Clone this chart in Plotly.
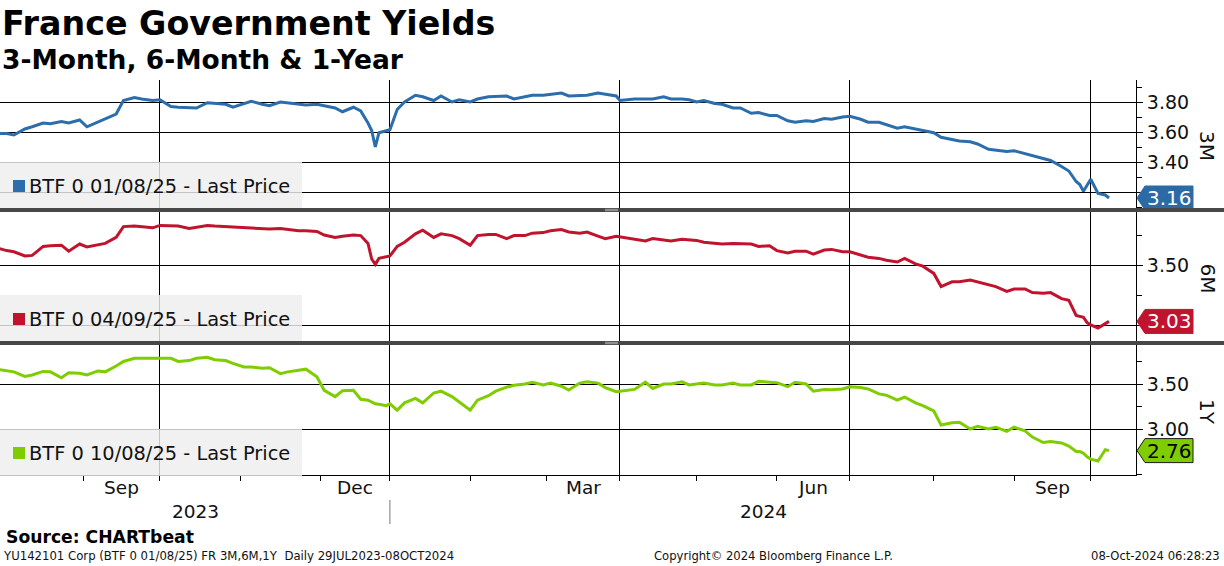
import pandas as pd
import plotly.graph_objects as go

# ---------------- data ----------------
DATES = [
    "2023-07-31", "2023-08-03", "2023-08-07", "2023-08-10", "2023-08-14", "2023-08-17",
    "2023-08-21", "2023-08-24", "2023-08-28", "2023-08-31", "2023-09-04", "2023-09-07",
    "2023-09-11", "2023-09-14", "2023-09-18", "2023-09-21", "2023-09-25", "2023-09-28",
    "2023-10-02", "2023-10-05", "2023-10-09", "2023-10-12", "2023-10-16", "2023-10-19",
    "2023-10-23", "2023-10-26", "2023-10-30", "2023-11-02", "2023-11-06", "2023-11-09",
    "2023-11-13", "2023-11-16", "2023-11-20", "2023-11-23", "2023-11-27", "2023-11-30",
    "2023-12-04", "2023-12-07", "2023-12-11", "2023-12-14", "2023-12-18", "2023-12-20",
    "2023-12-21", "2023-12-22", "2023-12-27", "2023-12-29", "2024-01-02", "2024-01-04",
    "2024-01-08", "2024-01-11", "2024-01-15", "2024-01-18", "2024-01-22", "2024-01-25",
    "2024-01-29", "2024-02-01", "2024-02-05", "2024-02-08", "2024-02-12", "2024-02-15",
    "2024-02-19", "2024-02-22", "2024-02-26", "2024-02-29", "2024-03-04", "2024-03-07",
    "2024-03-11", "2024-03-14", "2024-03-18", "2024-03-21", "2024-03-25", "2024-03-28",
    "2024-04-02", "2024-04-05", "2024-04-08", "2024-04-11", "2024-04-15", "2024-04-18",
    "2024-04-22", "2024-04-25", "2024-04-29", "2024-05-02", "2024-05-06", "2024-05-09",
    "2024-05-13", "2024-05-16", "2024-05-20", "2024-05-23", "2024-05-27", "2024-05-30",
    "2024-06-03", "2024-06-06", "2024-06-10", "2024-06-13", "2024-06-17", "2024-06-20",
    "2024-06-24", "2024-06-27", "2024-07-01", "2024-07-04", "2024-07-08", "2024-07-11",
    "2024-07-15", "2024-07-18", "2024-07-22", "2024-07-25", "2024-07-29", "2024-08-01",
    "2024-08-05", "2024-08-08", "2024-08-12", "2024-08-15", "2024-08-19", "2024-08-22",
    "2024-08-26", "2024-08-29", "2024-09-02", "2024-09-05", "2024-09-09", "2024-09-12",
    "2024-09-16", "2024-09-19", "2024-09-23", "2024-09-25", "2024-09-26", "2024-09-27",
    "2024-09-30", "2024-10-01", "2024-10-03", "2024-10-07", "2024-10-08",
]

Y_3M = [
    3.59, 3.59, 3.58, 3.62, 3.635, 3.66, 3.655, 3.67, 3.66, 3.68, 3.635, 3.665,
    3.685, 3.72, 3.81, 3.83, 3.82, 3.81, 3.815, 3.77, 3.765, 3.76, 3.76, 3.795,
    3.79, 3.785, 3.765, 3.79, 3.805, 3.785, 3.775, 3.80, 3.795, 3.79, 3.78, 3.785,
    3.775, 3.76, 3.735, 3.765, 3.74, 3.66, 3.61, 3.50, 3.595, 3.605, 3.615, 3.75,
    3.80, 3.845, 3.835, 3.81, 3.84, 3.80, 3.815, 3.80, 3.82, 3.835, 3.835, 3.84,
    3.82, 3.835, 3.845, 3.845, 3.85, 3.86, 3.84, 3.845, 3.845, 3.86, 3.85, 3.84,
    3.81, 3.82, 3.82, 3.82, 3.82, 3.835, 3.82, 3.82, 3.815, 3.80, 3.81, 3.79,
    3.785, 3.76, 3.76, 3.725, 3.73, 3.71, 3.71, 3.675, 3.665, 3.675, 3.67, 3.69,
    3.685, 3.70, 3.705, 3.685, 3.665, 3.665, 3.65, 3.625, 3.635, 3.62, 3.605, 3.595,
    3.565, 3.55, 3.54, 3.535, 3.52, 3.485, 3.48, 3.47, 3.475, 3.455, 3.445, 3.425,
    3.41, 3.37, 3.34, 3.27, 3.25, 3.205, 3.25, 3.285, 3.19, 3.18, 3.16,
]

Y_6M = [
    3.645, 3.62, 3.61, 3.575, 3.58, 3.655, 3.66, 3.665, 3.615, 3.675, 3.65, 3.67,
    3.68, 3.73, 3.82, 3.825, 3.82, 3.81, 3.83, 3.83, 3.825, 3.805, 3.815, 3.83,
    3.825, 3.82, 3.815, 3.81, 3.81, 3.805, 3.80, 3.805, 3.795, 3.785, 3.785, 3.78,
    3.75, 3.73, 3.74, 3.75, 3.745, 3.68, 3.55, 3.505, 3.555, 3.565, 3.575, 3.655,
    3.69, 3.76, 3.79, 3.73, 3.76, 3.745, 3.72, 3.665, 3.745, 3.755, 3.755, 3.72,
    3.745, 3.745, 3.765, 3.77, 3.785, 3.795, 3.775, 3.765, 3.775, 3.74, 3.72, 3.74,
    3.735, 3.72, 3.72, 3.70, 3.72, 3.705, 3.70, 3.715, 3.71, 3.705, 3.69, 3.68,
    3.675, 3.68, 3.68, 3.675, 3.655, 3.66, 3.62, 3.60, 3.615, 3.615, 3.59, 3.625,
    3.63, 3.61, 3.61, 3.585, 3.565, 3.555, 3.54, 3.525, 3.555, 3.51, 3.49, 3.43,
    3.32, 3.36, 3.36, 3.375, 3.36, 3.34, 3.32, 3.28, 3.30, 3.30, 3.27, 3.265,
    3.27, 3.22, 3.205, 3.08, 3.075, 3.065, 3.02, 3.00, 2.975, 3.01, 3.03,
]

Y_1Y = [
    3.665, 3.65, 3.635, 3.585, 3.60, 3.64, 3.635, 3.57, 3.625, 3.62, 3.60, 3.645,
    3.635, 3.70, 3.75, 3.786, 3.786, 3.79, 3.786, 3.785, 3.75, 3.76, 3.785, 3.797,
    3.77, 3.76, 3.73, 3.69, 3.69, 3.675, 3.68, 3.615, 3.635, 3.655, 3.665, 3.58,
    3.43, 3.36, 3.425, 3.43, 3.33, 3.32, 3.30, 3.28, 3.275, 3.26, 3.28, 3.21,
    3.29, 3.34, 3.29, 3.40, 3.42, 3.36, 3.30, 3.21, 3.32, 3.37, 3.42, 3.465,
    3.485, 3.50, 3.52, 3.49, 3.51, 3.475, 3.433, 3.51, 3.525, 3.51, 3.46, 3.415,
    3.42, 3.43, 3.44, 3.52, 3.45, 3.50, 3.50, 3.525, 3.49, 3.50, 3.51, 3.49,
    3.49, 3.51, 3.49, 3.49, 3.53, 3.52, 3.515, 3.47, 3.52, 3.50, 3.42, 3.44,
    3.435, 3.445, 3.47, 3.46, 3.445, 3.39, 3.375, 3.32, 3.355, 3.29, 3.26, 3.20,
    3.045, 3.07, 3.074, 3.00, 3.03, 3.00, 3.02, 2.975, 3.02, 2.98, 2.91, 2.85,
    2.86, 2.845, 2.81, 2.75, 2.75, 2.73, 2.69, 2.665, 2.645, 2.77, 2.76,
]

NAMES = ["BTF 0 01/08/25 - Last Price", "BTF 0 04/09/25 - Last Price", "BTF 0 10/08/25 - Last Price"]
PANEL_LABELS = ["3M", "6M", "1Y"]
MAJOR_Y = [[3.2, 3.4, 3.6, 3.8], [3.0, 3.5], [3.0, 3.5]]
# tick labels hidden behind the last-price tags in the reference
HIDDEN_LABELS = [[3.2], [3.0], []]
MINOR_Y = [[3.1, 3.3, 3.5, 3.7, 3.9], [3.25, 3.75], [2.5, 2.75, 3.25, 3.75]]
Y_RANGES = [[3.0933, 3.9467], [2.8667, 3.9417], [2.4889, 3.9333]]
HOLIDAYS = ["2023-12-25", "2023-12-26", "2024-01-01", "2024-03-29", "2024-04-01", "2024-05-01"]
LABEL_MONTHS = ["2023-09", "2023-12", "2024-03", "2024-06", "2024-09"]
YEARS = ["2023", "2024"]
X_RANGE = ["2023-08-01 04:20", "2024-10-17 09:36"]

TITLE = "France Government Yields"
SUBTITLE = "3-Month, 6-Month & 1-Year"
SOURCE = "Source: CHARTbeat"
FOOT_LEFT = "YU142101 Corp (BTF 0 01/08/25) FR 3M,6M,1Y  Daily 29JUL2023-08OCT2024"
FOOT_MID = "Copyright\u00a9 2024 Bloomberg Finance L.P."
FOOT_RIGHT = "08-Oct-2024 06:28:23"

# ---------------- styling ----------------
W, H = 1224, 566
COLORS = ["#2c6dab", "#c0142e", "#7fcd00"]
TAG_FILL = ["#2c6aa6", "#c0142e", "#7fcd00"]
TAG_TEXT = ["white", "white", "black"]
TAG_LINE = ["#2c6aa6", "#c0142e", "#1a1a1a"]
FONT = "DejaVu Sans"
PLOT_RIGHT = 1136
PANELS_PX = [(80, 208), (212, 341), (345, 475)]


def py(p):
    return 1 - p / H


def pxx(p):
    return p / W


XDOM = [0, pxx(PLOT_RIGHT)]

# trading-day calendar for ticks and label positions
td = pd.bdate_range("2023-07-31", "2024-11-29")
td = td[~td.isin(pd.to_datetime(HOLIDAYS))]
tds = pd.Series(td)
month_first = tds.groupby(tds.dt.to_period("M")).min()
month_starts = [d for d in month_first if pd.Timestamp("2023-08-01") <= d <= pd.Timestamp("2024-10-31")]
quarter_starts = [d for d in month_starts if d.month in (1, 4, 7, 10)]

fig = go.Figure()
series = [Y_3M, Y_6M, Y_1Y]
rb = [dict(bounds=["sat", "mon"]), dict(values=HOLIDAYS)]

for i in range(3):
    sfx = "" if i == 0 else str(i + 1)
    fig.add_trace(go.Scatter(
        x=DATES, y=series[i], mode="lines",
        line=dict(color=COLORS[i], width=3),
        xaxis="x" + sfx, yaxis="y" + sfx,
        showlegend=False, hoverinfo="skip"))

    top, bot = PANELS_PX[i]
    bottom_axis = (i == 2)
    xa = dict(
        domain=XDOM, anchor="y" + sfx, type="date", range=X_RANGE, rangebreaks=rb,
        tickmode="array", tickvals=quarter_starts, ticktext=[""] * len(quarter_starts),
        showgrid=True, gridcolor="black", gridwidth=1, zeroline=False,
        showticklabels=False, fixedrange=True,
    )
    if bottom_axis:
        xa.update(showline=True, linecolor="black", linewidth=1,
                  ticks="outside", ticklen=7, tickcolor="black", tickwidth=1,
                  minor=dict(tickmode="array", tickvals=month_starts, ticks="outside",
                             ticklen=5, tickcolor="black", tickwidth=1, showgrid=False))
    else:
        xa.update(showline=False, ticks="")
    if i > 0:
        xa["matches"] = "x"
    fig.layout["xaxis" + sfx] = xa

    fig.layout["yaxis" + sfx] = dict(
        domain=[py(bot), py(top)], anchor="x" + sfx, side="right",
        range=Y_RANGES[i], tickmode="array", tickvals=MAJOR_Y[i],
        ticktext=["" if v in HIDDEN_LABELS[i] else f"{v:.2f}" for v in MAJOR_Y[i]],
        showgrid=True, gridcolor="black", gridwidth=1, zeroline=False,
        showline=True, linecolor="black", linewidth=1,
        ticks="outside", ticklen=6, tickcolor="black",
        minor=dict(tickmode="array", tickvals=MINOR_Y[i], ticks="outside", ticklen=5,
                   tickcolor="black", showgrid=False),
        tickfont=dict(family=FONT, size=19, color="#111111"), fixedrange=True,
    )

shapes = []
annots = []

# value tags at the last price
for i in range(3):
    sfx = "" if i == 0 else str(i + 1)
    last = series[i][-1]
    shapes.append(dict(type="path", xref="paper", yref="y" + sfx,
                       xsizemode="pixel", ysizemode="pixel",
                       xanchor=XDOM[1], yanchor=last,
                       path="M 1,0 L 9,12 L 57,12 L 57,-12 L 9,-12 Z",
                       fillcolor=TAG_FILL[i], line=dict(color=TAG_LINE[i], width=1),
                       layer="above"))
    annots.append(dict(xref="paper", yref="y" + sfx, x=pxx(PLOT_RIGHT + 33), y=last,
                       text=f"{last:.2f}", showarrow=False, xanchor="center", yanchor="middle",
                       font=dict(family=FONT, size=20, color=TAG_TEXT[i])))
    top, bot = PANELS_PX[i]
    annots.append(dict(xref="paper", yref="paper", x=pxx(1207), y=py((top + bot) / 2 + 2),
                       text=PANEL_LABELS[i], showarrow=False, textangle=90,
                       xanchor="center", yanchor="middle",
                       font=dict(family=FONT, size=20, color="#111111")))
    # legend box
    shapes.append(dict(type="rect", xref="paper", yref="paper",
                       x0=0, x1=pxx(302), y0=py(bot + 1), y1=py(bot - 46),
                       fillcolor="rgba(238,238,238,0.82)", line=dict(width=0), layer="above"))
    cy = bot - 22
    shapes.append(dict(type="rect", xref="paper", yref="paper",
                       x0=pxx(13), x1=pxx(25), y0=py(cy + 6), y1=py(cy - 6),
                       fillcolor=COLORS[i], line=dict(width=0), layer="above"))
    annots.append(dict(xref="paper", yref="paper", x=pxx(27), y=py(cy),
                       text=NAMES[i], showarrow=False, xanchor="left", yanchor="middle",
                       font=dict(family=FONT, size=19.4, color="#111111")))

# panel separators (drawn after tags so they clip them)
for yb in (208, 341):
    shapes.append(dict(type="rect", xref="paper", yref="paper", x0=0, x1=1,
                       y0=py(yb + 4), y1=py(yb), fillcolor="#474747",
                       line=dict(width=0), layer="above"))
    for dy in (1.3, 2.7):
        shapes.append(dict(type="line", xref="paper", yref="paper",
                           x0=pxx(605), x1=pxx(618), y0=py(yb + dy), y1=py(yb + dy),
                           line=dict(color="#a0a0a0", width=1), layer="above"))

# year separator below the axis
year_start = [d for d in month_starts if d.month == 1][0]
shapes.append(dict(type="line", xref="x3", yref="paper", x0=year_start, x1=year_start,
                   y0=py(524), y1=py(500), line=dict(color="#777777", width=1)))

# month labels centred in their month
pos = {d: k for k, d in enumerate(td)}
for m in LABEL_MONTHS:
    per = pd.Period(m, "M")
    i0 = pos[month_first[per]]
    i1 = pos[month_first[per + 1]]
    mid = (i0 + i1) / 2
    base = td[int(mid)]
    xdate = base + pd.Timedelta(days=mid - int(mid))
    annots.append(dict(xref="x3", yref="paper", x=xdate, y=py(487),
                       text=per.strftime("%b"), showarrow=False,
                       xanchor="center", yanchor="middle",
                       font=dict(family=FONT, size=18.5, color="#111111")))

for yr, xc in zip(YEARS, (195, 763)):
    annots.append(dict(xref="paper", yref="paper", x=pxx(xc), y=py(511), text=yr,
                       showarrow=False, xanchor="center", yanchor="middle",
                       font=dict(family=FONT, size=18.5, color="#111111")))

# titles and footer
annots += [
    dict(xref="paper", yref="paper", x=0, y=py(24), text=f"<b>{TITLE}</b>", showarrow=False,
         xanchor="left", yanchor="middle", font=dict(family=FONT, size=33.3, color="black")),
    dict(xref="paper", yref="paper", x=0, y=py(60), text=f"<b>{SUBTITLE}</b>", showarrow=False,
         xanchor="left", yanchor="middle", font=dict(family=FONT, size=26.5, color="black")),
    dict(xref="paper", yref="paper", x=pxx(4), y=py(537), text=f"<b>{SOURCE}</b>", showarrow=False,
         xanchor="left", yanchor="middle", font=dict(family=FONT, size=17.2, color="black")),
    dict(xref="paper", yref="paper", x=pxx(1), y=py(556), text=FOOT_LEFT, showarrow=False,
         xanchor="left", yanchor="middle", font=dict(family=FONT, size=11.7, color="#111111")),
    dict(xref="paper", yref="paper", x=pxx(773), y=py(556), text=FOOT_MID, showarrow=False,
         xanchor="center", yanchor="middle", font=dict(family=FONT, size=11.6, color="#111111")),
    dict(xref="paper", yref="paper", x=pxx(1222), y=py(556), text=FOOT_RIGHT, showarrow=False,
         xanchor="right", yanchor="middle", font=dict(family=FONT, size=11.6, color="#111111")),
]

fig.update_layout(
    width=W, height=H, margin=dict(l=0, r=0, t=0, b=0),
    paper_bgcolor="white", plot_bgcolor="white",
    shapes=shapes, annotations=annots, showlegend=False,
    font=dict(family=FONT, color="#111111"),
)

fig.write_html("out.html", config={"displayModeBar": False},
               post_script="document.body.style.margin='0';document.body.style.overflow='hidden';")
